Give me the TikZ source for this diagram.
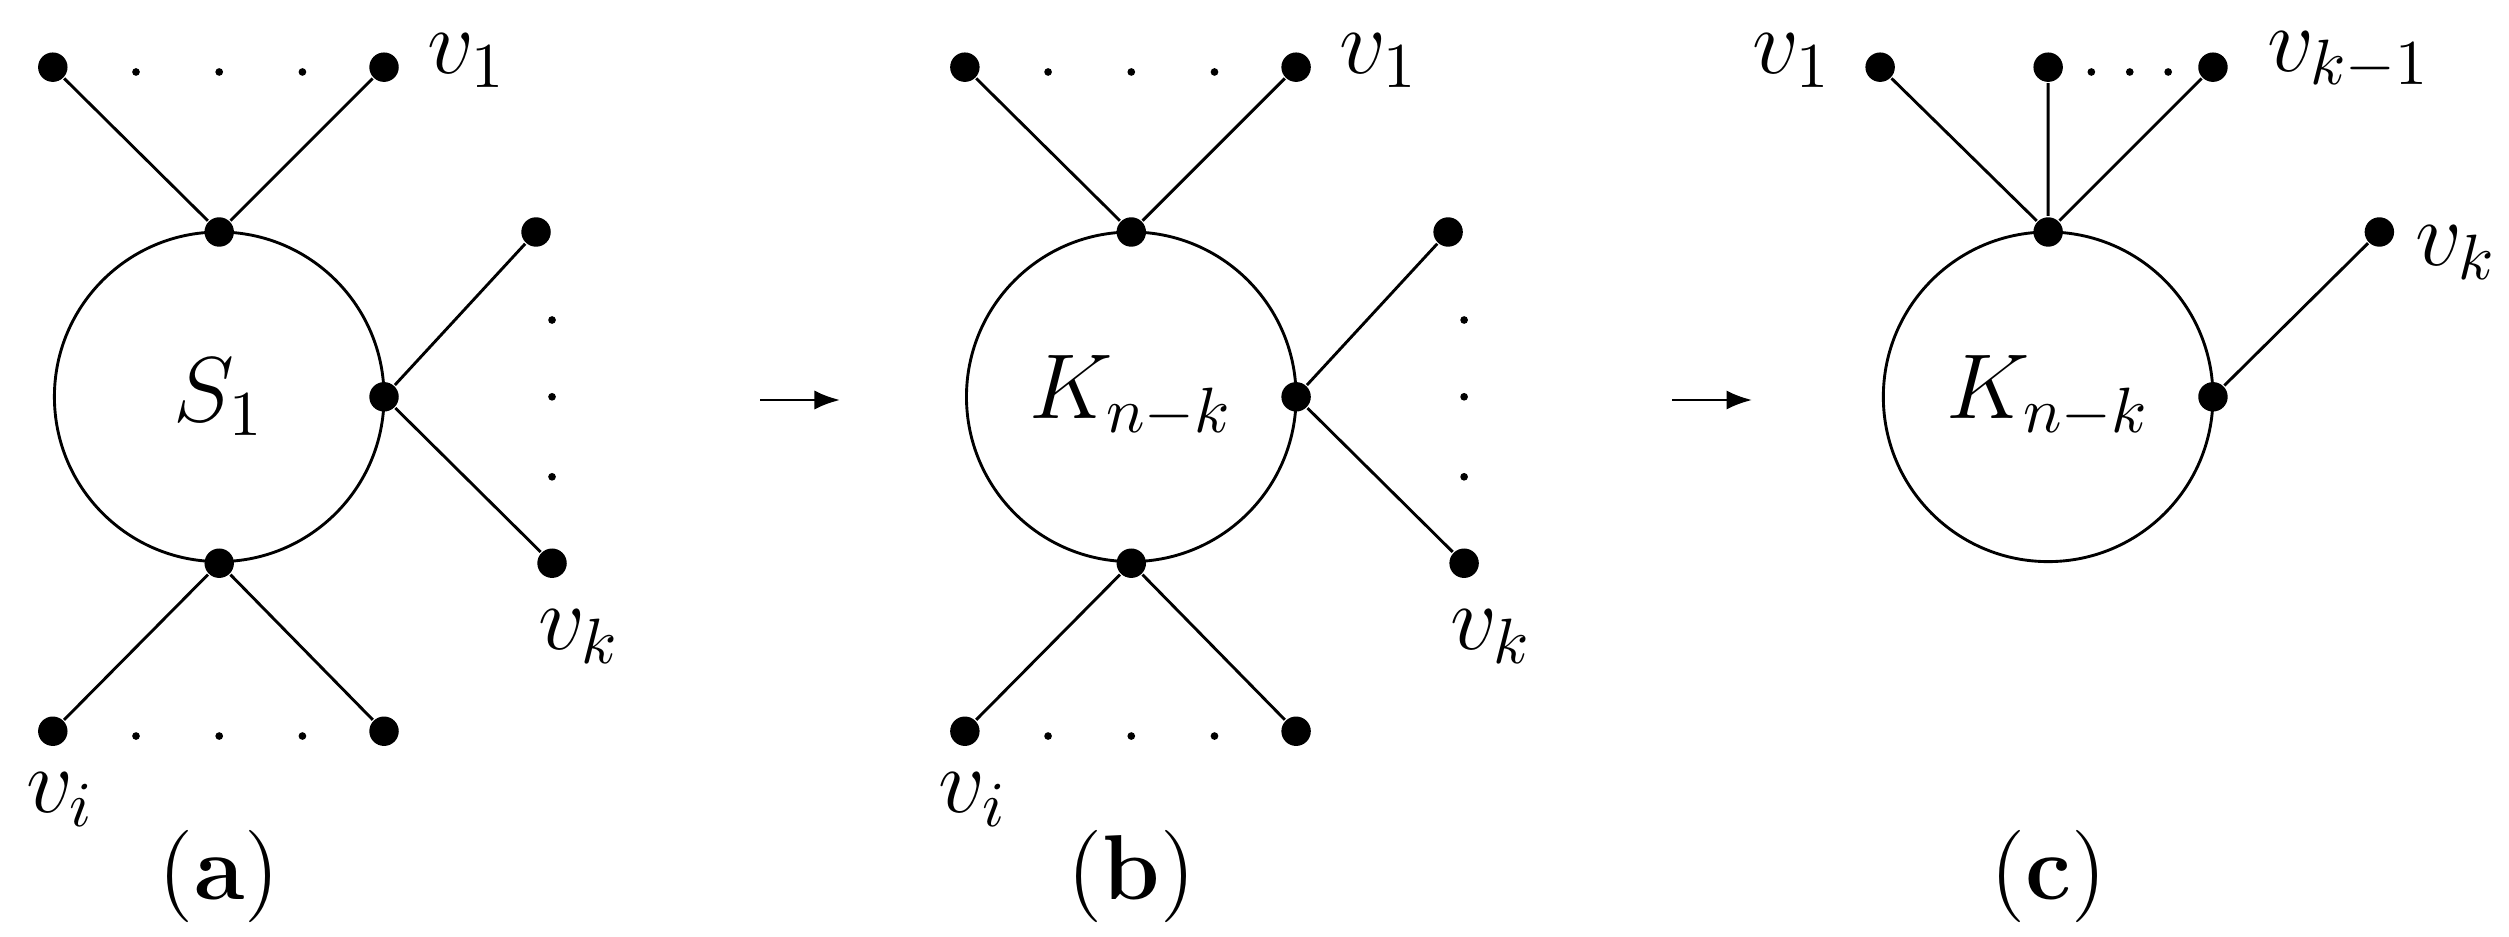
\documentclass[tikz,border=0pt]{standalone}
\usetikzlibrary{arrows.meta}
\begin{document}
\begin{tikzpicture}[x=0.25pt,y=-0.25pt,
  dot/.style={circle,fill=black,inner sep=0pt,minimum size=4.6pt},
  sm/.style={circle,fill=black,inner sep=0pt,minimum size=1.2pt},
  lbl/.style={font=\Large},
  edge/.style={line width=0.45pt}]
\useasboundingbox (0,0) rectangle (1568,585);
\foreach \ox/\tx/\nm in {0/{$S_1$}/a,570/{$K_{n-k}$}/b}{
 \begin{scope}[xshift=\ox*0.25pt]
  \draw[edge] (137,248) circle[radius=103];
  \node[dot] (\nm t) at (137,145) {};
  \node[dot] (\nm r) at (240,248) {};
  \node[dot] (\nm b) at (137,352) {};
  \node[dot] (\nm 1) at (33,42) {};
  \node[dot] (\nm 2) at (240,42) {};
  \node[dot] (\nm 3) at (335,145) {};
  \node[dot] (\nm 4) at (345,352) {};
  \node[dot] (\nm 5) at (33,457) {};
  \node[dot] (\nm 6) at (240,457) {};
  \draw[edge] (\nm t)--(\nm 1) (\nm t)--(\nm 2) (\nm r)--(\nm 3) (\nm r)--(\nm 4) (\nm b)--(\nm 5) (\nm b)--(\nm 6);
  \foreach \x in {85,137,189} {\node[sm] at (\x,45) {}; \node[sm] at (\x,460) {};}
  \foreach \y in {200,248,298} \node[sm] at (345,\y) {};
  \node[lbl] at (137,248) {\tx};
  \node[lbl] at (292,38) {$v_1$};
  \node[lbl] at (362,398) {$v_k$};
  \node[lbl] at (38,500) {$v_i$};
 \end{scope}}
\node[lbl] at (137,548) {(\textbf{a})};
\node[lbl] at (707,548) {(\textbf{b})};
\coordinate (p1) at (475,250); \coordinate (q1) at (525,250);
\coordinate (p2) at (1045,250); \coordinate (q2) at (1095,250);
\draw[edge,-{Latex[length=4pt,width=3pt]}] (p1)--(q1);
\draw[edge,-{Latex[length=4pt,width=3pt]}] (p2)--(q2);
\draw[edge] (1280,248) circle[radius=103];
\node[dot] (ct) at (1280,145) {};
\node[dot] (cr) at (1383,248) {};
\node[dot] (c1) at (1175,42) {};
\node[dot] (c2) at (1280,42) {};
\node[dot] (c3) at (1383,42) {};
\node[dot] (c4) at (1487,145) {};
\draw[edge] (ct)--(c1) (ct)--(c2) (ct)--(c3) (cr)--(c4);
\foreach \x in {1307,1331,1355} \node[sm] at (\x,45) {};
\node[lbl] at (1280,248) {$K_{n-k}$};
\node[lbl] at (1120,38) {$v_1$};
\node[lbl] at (1468,38) {$v_{k-1}$};
\node[lbl] at (1535,158) {$v_k$};
\node[lbl] at (1280,548) {(\textbf{c})};
\end{tikzpicture}
\end{document}
